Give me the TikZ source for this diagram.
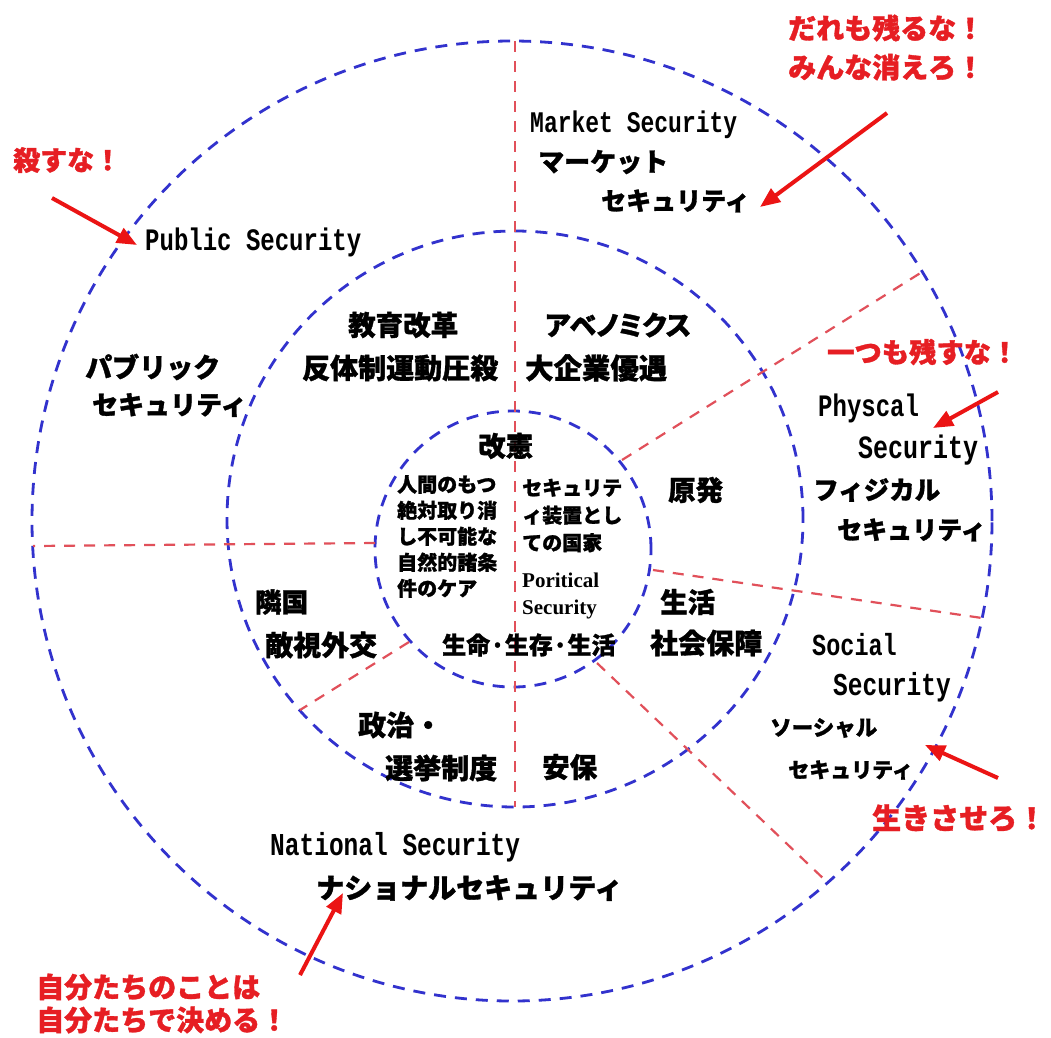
\documentclass[tikz,border=0pt]{standalone}
\usepackage{fontspec}
\usepackage{graphicx}
\usetikzlibrary{arrows.meta}
\newfontfamily\jp{Noto Sans CJK JP}[BoldFeatures={FakeBold=1.2}]
\newfontfamily\enmono{Liberation Mono}
\newfontfamily\enserif{Liberation Serif}
\definecolor{ringblue}{RGB}{50,50,205}
\definecolor{divred}{RGB}{225,80,90}
\definecolor{shoutred}{RGB}{230,30,35}
\definecolor{arrowred}{RGB}{235,20,20}
\newcommand{\fsz}[1]{\fontsize{#1}{#1}\selectfont}
\newcommand{\fszl}[2]{\fontsize{#1}{#2}\selectfont}
\newcommand{\tallen}[1]{\scalebox{1}[1.3]{#1}}
\tikzset{
  ring/.style={draw=ringblue, line width=2.8pt, dash pattern=on 12pt off 9pt},
  divider/.style={draw=divred, line width=2.2pt, dash pattern=on 11pt off 9pt},
  jlab/.style={anchor=west, inner sep=0pt, align=left},
  elab/.style={anchor=west, inner sep=0pt},
  shout/.style={anchor=west, inner sep=0pt, align=left, text=shoutred},
  pointer/.style={draw=arrowred, line width=4pt, -{Triangle[length=20pt,width=16pt]}},
}
\begin{document}
\begin{tikzpicture}[x=1pt,y=-1pt]
\useasboundingbox (0,0) rectangle (1051,1037);
\fill[white] (0,0) rectangle (1051,1037);
% rings
\draw[ring] (512,521) circle[radius=480pt];
\draw[ring] (515,519) circle[radius=288pt];
\draw[ring] (513,549) circle[radius=138pt];
% divider end points
\coordinate (d1a) at (515,41);  \coordinate (d1b) at (515,807);
\coordinate (d2a) at (622,460); \coordinate (d2b) at (922,272);
\coordinate (d3a) at (653,570); \coordinate (d3b) at (982,618);
\coordinate (d4a) at (597,663); \coordinate (d4b) at (827,882);
\coordinate (d5a) at (409,642); \coordinate (d5b) at (300,710);
\coordinate (d6a) at (375,543); \coordinate (d6b) at (33,546);
\draw[divider] (d1a) -- (d1b);
\draw[divider] (d2a) -- (d2b);
\draw[divider] (d3a) -- (d3b);
\draw[divider] (d4a) -- (d4b);
\draw[divider] (d5a) -- (d5b);
\draw[divider] (d6a) -- (d6b);
% outer ring labels
\node[elab, font=\enmono\bfseries\fsz{23}] (mktEn) at (530,125) {\tallen{Market Security}};
\node[jlab, font=\jp\bfseries\fsz{26}] (mktJa1) at (538,162) {マーケット};
\node[jlab, font=\jp\bfseries\fsz{25}] (mktJa2) at (601,201) {セキュリティ};
\node[elab, font=\enmono\bfseries\fsz{24}] (pubEn) at (145,242) {\tallen{Public Security}};
\node[jlab, font=\jp\bfseries\fsz{27}] (pubJa1) at (85,367) {パブリック};
\node[jlab, font=\jp\bfseries\fsz{26}] (pubJa2) at (92,405) {セキュリティ};
\node[elab, font=\enmono\bfseries\fsz{24}] (phyEn1) at (818,408) {\tallen{Physcal}};
\node[elab, font=\enmono\bfseries\fsz{25}] (phyEn2) at (858,450) {\tallen{Security}};
\node[jlab, font=\jp\bfseries\fsz{25.5}] (phyJa1) at (813,490) {フィジカル};
\node[jlab, font=\jp\bfseries\fsz{25}] (phyJa2) at (837,530) {セキュリティ};
\node[elab, font=\enmono\bfseries\fsz{23.5}] (socEn1) at (812,645) {\tallen{Social}};
\node[elab, font=\enmono\bfseries\fsz{24.5}] (socEn2) at (833,687) {\tallen{Security}};
\node[jlab, font=\jp\bfseries\fsz{21.5}] (socJa1) at (770,728) {ソーシャル};
\node[jlab, font=\jp\bfseries\fsz{21}] (socJa2) at (788,770) {セキュリティ};
\node[elab, font=\enmono\bfseries\fsz{24.5}] (natEn) at (270,847) {\tallen{National Security}};
\node[jlab, font=\jp\bfseries\fsz{28}] (natJa) at (316,888) {ナショナルセキュリティ};
% middle ring labels
\node[jlab, font=\jp\bfseries\fsz{27.5}] (edu1) at (348,325) {教育改革};
\node[jlab, font=\jp\bfseries\fsz{28}] (edu2) at (302,368) {反体制運動圧殺};
\node[jlab, font=\jp\bfseries\fsz{27}\addfontfeature{RawFeature=+palt}] (abe1) at (545,325) {アベノミクス};
\node[jlab, font=\jp\bfseries\fsz{28.4}] (abe2) at (525,368) {大企業優遇};
\node[jlab, font=\jp\bfseries\fsz{27.5}] (gen) at (668,490) {原発};
\node[jlab, font=\jp\bfseries\fsz{27.5}] (liv1) at (660,602) {生活};
\node[jlab, font=\jp\bfseries\fsz{28}] (liv2) at (650,643) {社会保障};
\node[jlab, font=\jp\bfseries\fsz{27.5}] (anpo) at (542,767) {安保};
\node[jlab, font=\jp\bfseries\fsz{28}] (pol1) at (358,725) {政治・};
\node[jlab, font=\jp\bfseries\fsz{28}] (pol2) at (385,768) {選挙制度};
\node[jlab, font=\jp\bfseries\fsz{26.5}] (nei1) at (255,602) {隣国};
\node[jlab, font=\jp\bfseries\fsz{28}] (nei2) at (265,645) {敵視外交};
% inner circle labels
\node[jlab, font=\jp\bfseries\fsz{24}] (life) at (442,645) {生命·生存·生活};
\node[jlab, font=\jp\bfseries\fsz{27.5}] (kaiken) at (478,446) {改憲};
\node[jlab, font=\jp\bfseries\fszl{20}{26}] (care) at (397,536.5) {人間のもつ\\絶対取り消\\し不可能な\\自然的諸条\\件のケア};
\node[jlab, font=\jp\bfseries\fszl{20}{27.5}] (state) at (522,515.5) {セキュリテ\\ィ装置とし\\ての国家};
\node[jlab, font=\enserif\bfseries\fszl{21}{27}] (polEn) at (522,595.5) {Poritical\\Security};
% red shouts
\node[shout, font=\jp\bfseries\fszl{28}{39}] (s1) at (788,47.5) {だれも残るな！\\みんな消えろ！};
\node[shout, font=\jp\bfseries\fsz{27}] (s2) at (13,160) {殺すな！};
\node[shout, font=\jp\bfseries\fsz{27.3}] (s3) at (827,352) {一つも残すな！};
\node[shout, font=\jp\bfseries\fsz{29}] (s4) at (872,818) {生きさせろ！};
\node[shout, font=\jp\bfseries\fszl{28}{33}] (s5) at (36,1003.5) {自分たちのことは\\自分たちで決める！};
% arrows
\coordinate (a1s) at (887,113); \coordinate (a1t) at (760,207);
\coordinate (a2s) at (52,198);  \coordinate (a2t) at (137,245);
\coordinate (a3s) at (998,392); \coordinate (a3t) at (933,428);
\coordinate (a4s) at (998,778); \coordinate (a4t) at (925,745);
\coordinate (a5s) at (300,975); \coordinate (a5t) at (343,893);
\draw[pointer] (a1s) -- (a1t);
\draw[pointer] (a2s) -- (a2t);
\draw[pointer] (a3s) -- (a3t);
\draw[pointer] (a4s) -- (a4t);
\draw[pointer] (a5s) -- (a5t);
\end{tikzpicture}
\end{document}
